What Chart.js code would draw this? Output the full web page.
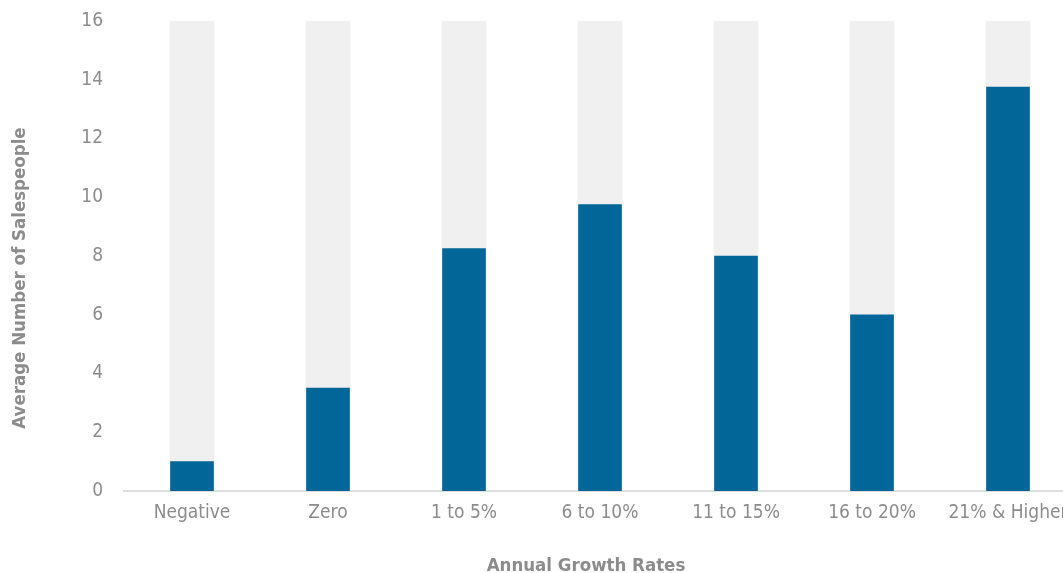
<!DOCTYPE html>
<html>
<head>
<meta charset="utf-8">
<script src="https://cdn.jsdelivr.net/npm/chart.js@4"></script>
<style>
  html, body { margin: 0; padding: 0; background: #fff; overflow: hidden; }
  #wrap { width: 1080px; height: 573px; }
</style>
</head>
<body>
<div id="wrap"><canvas id="myChart"></canvas></div>
<script>
const categories = ["Negative", "Zero", "1 to 5%", "6 to 10%", "11 to 15%", "16 to 20%", "21% & Higher"];
const salespeople = [1, 3.5, 8.25, 9.75, 8, 6, 13.75];
const track = [16, 16, 16, 16, 16, 16, 16];

const FONT = "'Liberation Sans Narrow', 'DejaVu Sans Condensed', sans-serif";
const GREY_TEXT = "#8c8c8c";

// axis titles drawn by hand so they sit where we want them
const axisTitles = {
  id: "axisTitles",
  afterDraw(chart) {
    const c = chart.ctx;
    c.save();
    c.fillStyle = GREY_TEXT;
    c.font = "bold 18.5px " + FONT;
    c.textAlign = "center";
    c.textBaseline = "middle";
    c.fillText("Annual Growth Rates", 586, 566);
    c.translate(20, 278);
    c.rotate(-Math.PI / 2);
    c.fillText("Average Number of Salespeople", 0, 0);
    c.restore();
  },
};

const ctx = document.getElementById("myChart");
const myChart = new Chart(ctx, {
  type: "bar",
  data: {
    labels: categories,
    datasets: [
      {
        label: "Average Number of Salespeople",
        data: salespeople,
        backgroundColor: "#036699",
        barThickness: 43,
        order: 0,
      },
      {
        label: "track",
        data: track,
        backgroundColor: "#f0f0f0",
        barThickness: 44,
        order: 1,
      },
    ],
  },
  options: {
    responsive: true,
    maintainAspectRatio: false,
    animation: false,
    datasets: { bar: { grouped: false } },
    layout: { padding: { top: 21, right: 4, left: 0, bottom: 0 } },
    plugins: {
      legend: { display: false },
      tooltip: { enabled: false },
    },
    scales: {
      x: {
        grid: { display: false, drawTicks: false },
        border: { display: true, color: "#dedede", width: 2 },
        ticks: {
          color: GREY_TEXT,
          font: { family: FONT, size: 19 },
          padding: 11,
          maxRotation: 0,
          autoSkip: false,
        },
        afterFit(scale) { scale.height = 82; },
      },
      y: {
        min: 0,
        max: 16,
        grid: { display: false, drawTicks: false },
        border: { display: false },
        ticks: {
          stepSize: 2,
          color: GREY_TEXT,
          font: { family: FONT, size: 19 },
          padding: 21,
        },
        afterFit(scale) {
          scale.width = 124;
          // top label may hang over the padding
          scale.paddingTop = 0;
          scale.paddingBottom = 0;
        },
      },
    },
  },
  plugins: [axisTitles],
});
</script>
</body>
</html>
